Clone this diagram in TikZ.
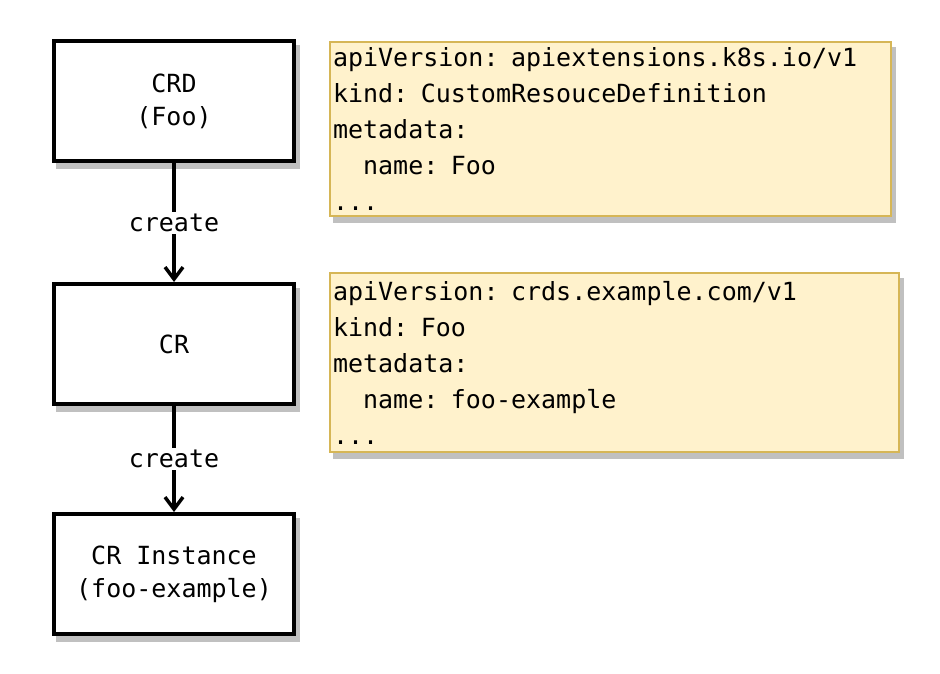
\documentclass[tikz,border=0pt]{standalone}
\usepackage{fontspec}
\setmonofont{DejaVu Sans Mono}
\usetikzlibrary{arrows.meta}
\definecolor{yfill}{HTML}{FFF2CC}
\definecolor{ydraw}{HTML}{D6B656}
\definecolor{shadowc}{HTML}{C0C0C0}
\begin{document}
\begin{tikzpicture}[x=1pt,y=-1pt,
  mono/.style={font=\ttfamily\fontsize{25}{33}\selectfont},
  sh/.style={preaction={draw=shadowc, fill=shadowc, transform canvas={shift={(4pt,-6pt)}}}},
  box/.style={mono, sh, draw=black, fill=white, line width=4pt, minimum width=240pt, minimum height=120pt, align=center, inner sep=0pt},
  yaml/.style={font=\ttfamily\fontsize{25}{36}\selectfont, sh, draw=ydraw, fill=yfill, line width=2pt, align=left, inner xsep=3pt, inner ysep=0pt},
  arr/.style={line width=3.5pt, -{Straight Barb[length=12pt,width=18pt,line width=3.5pt]}},
  lbl/.style={mono, fill=white, inner sep=2pt}
]
\useasboundingbox (0,0) rectangle (940,674);
\node[box] (crd) at (174,101.5) {CRD\\(Foo)};
\node[box] (cr) at (174,344) {CR};
\node[box] (inst) at (174,574) {CR Instance\\(foo-example)};
\node[yaml, minimum width=561pt, minimum height=174pt, text width=555pt] (y1) at (610.5,129)
  {apiVersion: apiextensions.k8s.io/v1\\kind: CustomResouceDefinition\\metadata:\\\hphantom{xx}name: Foo\\...};
\node[yaml, minimum width=569pt, minimum height=179pt, text width=563pt] (y2) at (614.5,362.5)
  {apiVersion: crds.example.com/v1\\kind: Foo\\metadata:\\\hphantom{xx}name: foo-example\\...};
\draw[arr] (crd) -- node[lbl] (c1) {create} (cr);
\draw[arr] (cr) -- node[lbl] (c2) {create} (inst);
\end{tikzpicture}
\end{document}
